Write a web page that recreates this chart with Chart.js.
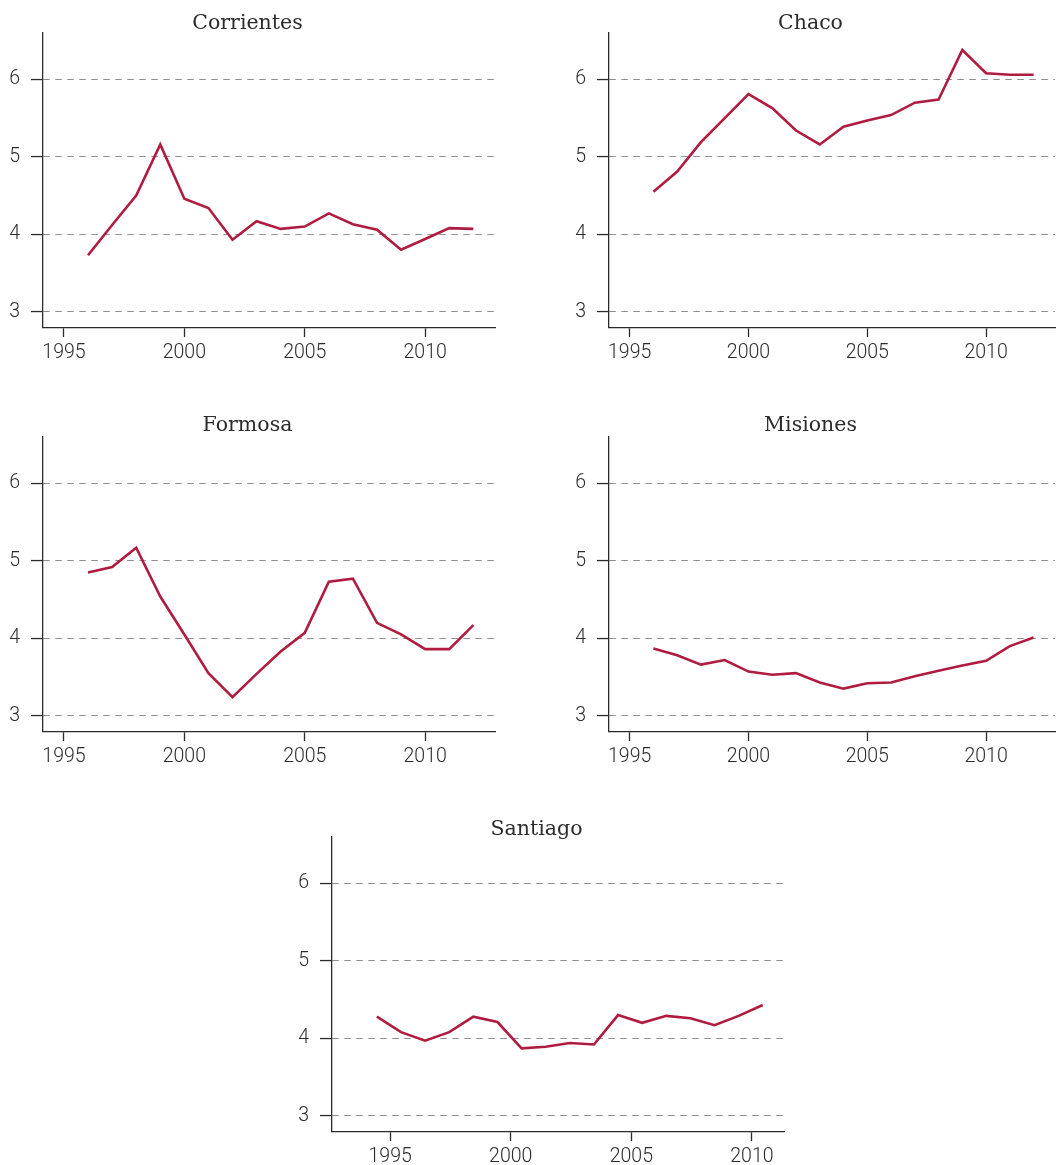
<!DOCTYPE html>
<html>
<head>
<meta charset="utf-8">
<script src="https://cdn.jsdelivr.net/npm/chart.js@4"></script>
<style>
  html, body { margin: 0; padding: 0; background: #fff; overflow: hidden; }
  #page { position: relative; width: 1056px; height: 1165px; overflow: hidden; background: #fff; }
  #page canvas { position: absolute; }
</style>
</head>
<body>
<div id="page">
  <canvas id="c1" width="503" height="370" style="left:0px;top:0px"></canvas>
  <canvas id="c2" width="506" height="370" style="left:566px;top:0px"></canvas>
  <canvas id="c3" width="503" height="370" style="left:0px;top:404px"></canvas>
  <canvas id="c4" width="506" height="370" style="left:566px;top:404px"></canvas>
  <canvas id="c5" width="497" height="361" style="left:289px;top:804px"></canvas>
</div>
<script>
// Yearly series, one per province
const years = [1996, 1997, 1998, 1999, 2000, 2001, 2002, 2003, 2004, 2005, 2006, 2007, 2008, 2009, 2010, 2011, 2012];
const santiagoYears = [1994.45, 1995.45, 1996.45, 1997.45, 1998.45, 1999.45, 2000.45, 2001.45, 2002.45, 2003.45, 2004.45, 2005.45, 2006.45, 2007.45, 2008.45, 2009.45, 2010.45];

const corrientes = [3.73, 4.12, 4.50, 5.16, 4.46, 4.34, 3.93, 4.17, 4.07, 4.10, 4.27, 4.13, 4.06, 3.80, 3.94, 4.08, 4.07];
const chaco      = [4.55, 4.81, 5.19, 5.50, 5.81, 5.63, 5.34, 5.16, 5.39, 5.47, 5.54, 5.70, 5.74, 6.38, 6.08, 6.06, 6.06];
const formosa    = [4.85, 4.92, 5.17, 4.54, 4.05, 3.55, 3.24, 3.54, 3.83, 4.07, 4.73, 4.77, 4.20, 4.05, 3.86, 3.86, 4.17];
const misiones   = [3.87, 3.78, 3.66, 3.72, 3.57, 3.53, 3.55, 3.43, 3.35, 3.42, 3.43, 3.51, 3.58, 3.65, 3.71, 3.90, 4.01];
const santiago   = [4.28, 4.08, 3.97, 4.08, 4.28, 4.21, 3.87, 3.89, 3.94, 3.92, 4.30, 4.20, 4.29, 4.26, 4.17, 4.29, 4.43];

const yTicks = [3, 4, 5, 6];
const xTicks = [1995, 2000, 2005, 2010];

const LINE = '#b01c3f';
const INK = '#2b2b2b';
const tickFont = { family: 'Roboto', size: 19.5, weight: 300 };

function makePanel(id, title, xs, ys, opt) {
  const pts = xs.map((x, i) => ({ x: x, y: ys[i] }));
  return new Chart(document.getElementById(id), {
    type: 'line',
    data: { datasets: [{ data: pts, borderColor: LINE, borderWidth: 2.6, pointRadius: 0, tension: 0, fill: false }] },
    options: {
      responsive: false,
      animation: false,
      layout: { padding: { left: 0, right: opt.padRight, top: 0, bottom: 0 } },
      plugins: {
        legend: { display: false },
        tooltip: { enabled: false },
        title: {
          display: true,
          text: title,
          color: INK,
          font: { family: 'DejaVu Serif', size: 20.5, weight: 'normal', lineHeight: 1 },
          padding: { top: opt.titleTop, bottom: 12.5 - opt.titleTop }
        }
      },
      scales: {
        x: {
          type: 'linear',
          min: opt.xMin,
          max: opt.xMax,
          afterBuildTicks: s => { s.ticks = xTicks.map(v => ({ value: v })); },
          afterFit: s => { s.height = opt.xHeight; },
          ticks: { color: INK, font: tickFont, padding: 4, maxRotation: 0, autoSkip: false, callback: v => String(v) },
          grid: { drawOnChartArea: false, drawTicks: true, tickLength: 9, tickColor: INK, tickWidth: 1.3 },
          border: { display: true, color: INK, width: 1.3 }
        },
        y: {
          type: 'linear',
          min: 2.79,
          max: 6.6,
          afterBuildTicks: s => { s.ticks = yTicks.map(v => ({ value: v })); },
          afterFit: s => { s.width = 43; },
          ticks: { color: INK, font: tickFont, padding: 11, callback: v => String(v) },
          grid: { color: '#8e8e8e', lineWidth: 1.1, drawTicks: true, tickLength: 12, tickColor: INK, tickWidth: 1.3, tickBorderDash: [] },
          border: { display: true, color: INK, width: 1.3, dash: [6.5, 5.5] }
        }
      }
    }
  });
}

const xMin = 1994.13, xMax = 2012.9;
makePanel('c1', 'Corrientes', years, corrientes, { padRight: 8, titleTop: 13.5, xHeight: 42, xMin, xMax });
makePanel('c2', 'Chaco', years, chaco, { padRight: 17, titleTop: 13.5, xHeight: 42, xMin, xMax });
makePanel('c3', 'Formosa', years, formosa, { padRight: 8, titleTop: 11.2, xHeight: 42, xMin, xMax });
makePanel('c4', 'Misiones', years, misiones, { padRight: 17, titleTop: 11.2, xHeight: 42, xMin, xMax });
makePanel('c5', 'Santiago', santiagoYears, santiago, { padRight: 2, titleTop: 15.5, xHeight: 33, xMin: 1992.59, xMax: 2011.33 });
</script>
</body>
</html>
